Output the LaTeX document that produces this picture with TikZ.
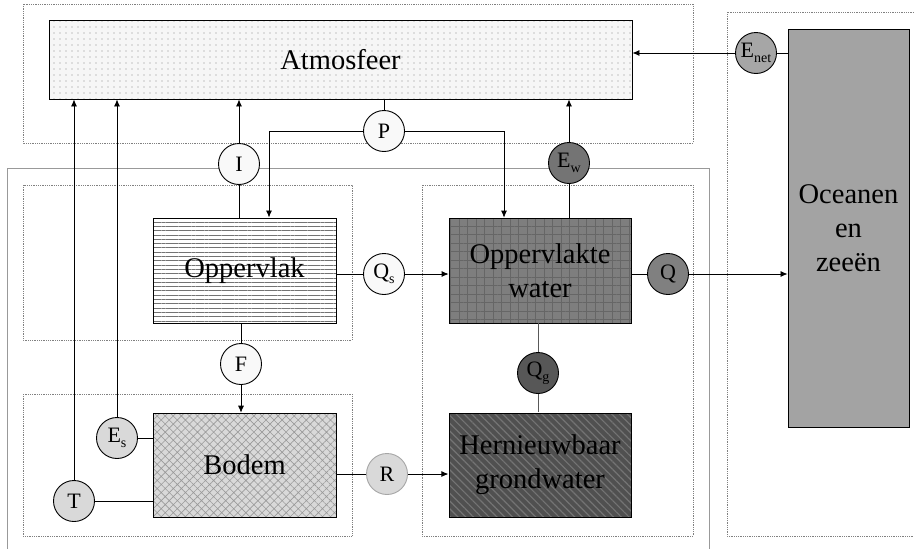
\documentclass[tikz,border=0pt]{standalone}
\usepackage{fontspec}
\setmainfont{Liberation Serif}
\usepackage{tikz}
\usetikzlibrary{arrows.meta, patterns.meta}
\usepackage{xcolor}
\definecolor{netgray}{HTML}{A6A6A6}
\definecolor{evapgray}{HTML}{747474}
\definecolor{qgray}{HTML}{808080}
\definecolor{qggray}{HTML}{575757}
\definecolor{soilgray}{HTML}{D9D9D9}
\definecolor{watergray}{HTML}{7E7E7E}
\definecolor{gridgray}{HTML}{666666}
\definecolor{grondgray}{HTML}{505050}
\definecolor{stripegray}{HTML}{747474}
\definecolor{oceangray}{HTML}{A3A3A3}
\newcommand{\flowsub}[1]{\raisebox{-0.45ex}{\fontsize{14}{14}\selectfont #1}}

\begin{document}
\begin{tikzpicture}[x=1pt, y=-1pt,
  store/.style={draw, line width=0.9pt, inner sep=0pt, align=center,
                font=\fontsize{28.5}{34}\selectfont},
  flux/.style={circle, draw, line width=0.9pt, minimum size=41pt, inner sep=0pt,
               fill=gray!5, font=\fontsize{22}{22}\selectfont},
  group/.style={gray, densely dotted, line width=0.8pt},
  flow/.style={-{Latex[length=7pt, width=6pt]}},
  link/.style={line width=0.8pt}]
  \useasboundingbox (0,0) rectangle (914,549);
  % group boxes
  \draw[group] (23,4) rectangle (693,143);
  \draw[gray!80, line width=0.8pt] (7,549) -- (7,168) -- (709,168) -- (709,549);
  \draw[group] (914,12) -- (727,12) -- (727,536) -- (914,536);
  \draw[group] (23,185) rectangle (352,340);
  \draw[group] (23,394) rectangle (352,536);
  \draw[group] (422,185) rectangle (693,536);
  % stores
  \node[store, minimum width=583pt, minimum height=79pt,
        preaction={fill=gray!7}, pattern={Dots[distance=6pt, radius=0.55pt]},
        pattern color=gray!90] (atmos) at (340.5,59.5) {Atmosfeer};
  \node[store, minimum width=183pt, minimum height=105pt, preaction={fill=white},
        pattern={Lines[angle=0, distance=4.3pt, line width=1pt]},
        pattern color=gray!90!black] (opp) at (244.5,270.5) {Oppervlak};
  \node[store, minimum width=182pt, minimum height=105pt, preaction={fill=watergray},
        pattern={Hatch[angle=0, distance=8.5pt, line width=0.7pt]},
        pattern color=gridgray] (water) at (540,270.5) {Oppervlakte\\water};
  \node[store, minimum width=183pt, minimum height=104pt, preaction={fill=soilgray},
        pattern={Hatch[angle=45, distance=5.7pt, line width=0.6pt]},
        pattern color=gray!80] (bodem) at (244.5,465) {Bodem};
  \node[store, minimum width=182pt, minimum height=104pt, preaction={fill=grondgray},
        pattern={Lines[angle=-45, distance=5.5pt, line width=1.2pt]},
        pattern color=stripegray] (hern) at (540,465) {Hernieuwbaar\\grondwater};
  \node[store, minimum width=121pt, minimum height=398pt, fill=oceangray]
        (ocean) at (848.5,228) {Oceanen\\en\\zeeën};
  % fluxes
  \node[flux] (P) at (384,131) {P};
  \node[flux] (I) at (239,164) {I};
  \node[flux, fill=evapgray] (Ew) at (569,163) {E\flowsub{w}};
  \node[flux, fill=netgray] (Enet) at (756,53) {E\flowsub{net}};
  \node[flux] (Qs) at (384,274) {Q\flowsub{s}};
  \node[flux, fill=qgray] (Q) at (668,274) {Q};
  \node[flux] (F) at (241,364) {F};
  \node[flux, fill=qggray] (Qg) at (538,373) {Q\flowsub{g}};
  \node[flux, fill=soilgray] (Es) at (117,438) {E\flowsub{s}};
  \node[flux, fill=soilgray] (T) at (74,501) {T};
  \node[flux, fill=soilgray, draw=gray!70] (R) at (387,474) {R};
  % connectors
  \draw[link] (atmos.south -| P) -- (P);
  \draw[link, flow] (P.west) -| ([xshift=24.5]opp.north);
  \draw[link, flow] (P.east) -| ([xshift=-36]water.north);
  \draw[link, flow] (I) -- (I |- atmos.south);
  \draw[link] (I) -- (I |- opp.north);
  \draw[link, flow] (Ew) -- (Ew |- atmos.south);
  \draw[link] (Ew) -- (Ew |- water.north);
  \draw[link, flow] (Enet) -- (Enet -| atmos.east);
  \draw[link] (Enet) -- (Enet -| ocean.west);
  \draw[link] (opp.east |- Qs) -- (Qs);
  \draw[link, flow] (Qs) -- (Qs -| water.west);
  \draw[link] (water.east |- Q) -- (Q);
  \draw[link, flow] (Q) -- (Q -| ocean.west);
  \draw[link, gray!70!black] (water.south -| Qg) -- (Qg) -- (Qg |- hern.north);
  \draw[link] (opp.south -| F) -- (F);
  \draw[link, flow] (F) -- (F |- bodem.north);
  \draw[link] (Es) -- (Es -| bodem.west);
  \draw[link, flow] (Es) -- (Es |- atmos.south);
  \draw[link] (T) -- (T -| bodem.west);
  \draw[link, flow] (T) -- (T |- atmos.south);
  \draw[link] (bodem.east |- R) -- (R);
  \draw[link, flow] (R) -- (R -| hern.west);
\end{tikzpicture}
\end{document}
